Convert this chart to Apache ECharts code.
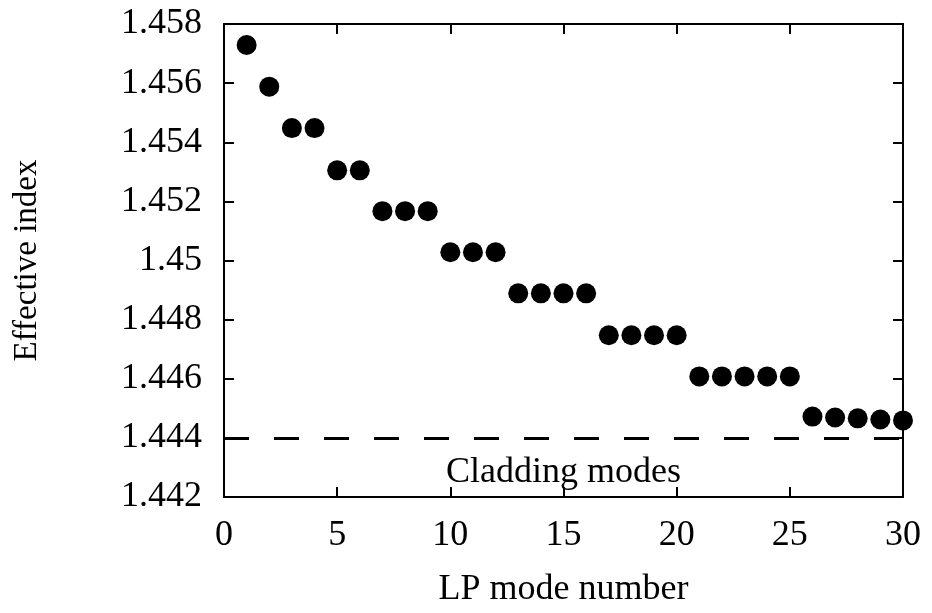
<!DOCTYPE html>
<html>
<head>
<meta charset="utf-8">
<script src="https://cdn.jsdelivr.net/npm/echarts@6/dist/echarts.min.js"></script>
<style>html,body{margin:0;padding:0;background:#fff}#c{width:932px;height:613px}</style>
</head>
<body>
<div id="c"></div>
<script>
var modeNumbers = [1,2,3,4,5,6,7,8,9,10,11,12,13,14,15,16,17,18,19,20,21,22,23,24,25,26,27,28,29,30];
var effectiveIndex = [1.45729,1.45588,1.45448,1.45448,1.45305,1.45305,1.45167,1.45167,1.45167,
  1.45028,1.45028,1.45028,1.44889,1.44889,1.44889,1.44889,1.44747,1.44747,1.44747,1.44747,
  1.44608,1.44608,1.44608,1.44608,1.44608,1.44472,1.44469,1.44466,1.44462,1.44459];
var claddingCutoff = 1.444;
var claddingLabel = 'Cladding modes';
var claddingLabelPos = [15, 1.44282];
var xRange = [0, 30], xStep = 5;
var yRange = [1.442, 1.458], yStep = 0.002;

var FONT = '"Liberation Serif", "Times New Roman", serif';
var chart = echarts.init(document.getElementById('c'), null, {renderer: 'canvas'});
var points = modeNumbers.map(function (m, i) { return [m, effectiveIndex[i]]; });
var axisCommon = {
  axisLine: {show: true, onZero: false, lineStyle: {color: '#000', width: 2}},
  axisTick: {show: true, inside: true, length: 10, lineStyle: {color: '#000', width: 2}},
  splitLine: {show: false}
};
chart.setOption({
  animation: false,
  backgroundColor: '#fff',
  grid: {left: 224, right: 29, top: 24, bottom: 114.5},
  xAxis: [
    Object.assign({
      type: 'value', position: 'bottom', min: xRange[0], max: xRange[1], interval: xStep,
      name: 'LP mode number', nameLocation: 'middle', nameGap: 75,
      nameTextStyle: {fontFamily: FONT, fontSize: 36, color: '#000'},
      axisLabel: {fontFamily: FONT, fontSize: 36, color: '#000', margin: 21}
    }, axisCommon),
    Object.assign({
      type: 'value', position: 'top', min: xRange[0], max: xRange[1], interval: xStep,
      axisLabel: {show: false}
    }, axisCommon)
  ],
  yAxis: [
    Object.assign({
      type: 'value', position: 'left', min: yRange[0], max: yRange[1], interval: yStep,
      name: 'Effective index', nameLocation: 'middle', nameGap: 180,
      nameTextStyle: {fontFamily: FONT, fontSize: 33, color: '#000'},
      axisLabel: {fontFamily: FONT, fontSize: 36, color: '#000', margin: 22,
        formatter: function (v) { return String(+v.toFixed(3)); }}
    }, axisCommon),
    Object.assign({
      type: 'value', position: 'right', min: yRange[0], max: yRange[1], interval: yStep,
      axisLabel: {show: false}
    }, axisCommon)
  ],
  series: [
    {
      type: 'scatter',
      data: points,
      symbol: 'circle',
      symbolSize: 20,
      itemStyle: {color: '#000', opacity: 1},
      z: 5,
      markLine: {
        silent: true,
        symbol: ['none', 'none'],
        label: {show: false},
        lineStyle: {color: '#000', width: 3, type: [25, 25], opacity: 1},
        data: [[{coord: [xRange[0], claddingCutoff]}, {coord: [xRange[1], claddingCutoff]}]]
      },
      markPoint: {
        silent: true,
        symbol: 'circle',
        symbolSize: 0,
        label: {show: true, formatter: claddingLabel, fontFamily: FONT, fontSize: 36, color: '#000', position: 'inside'},
        data: [{coord: claddingLabelPos}]
      }
    }
  ]
});
</script>
</body>
</html>
